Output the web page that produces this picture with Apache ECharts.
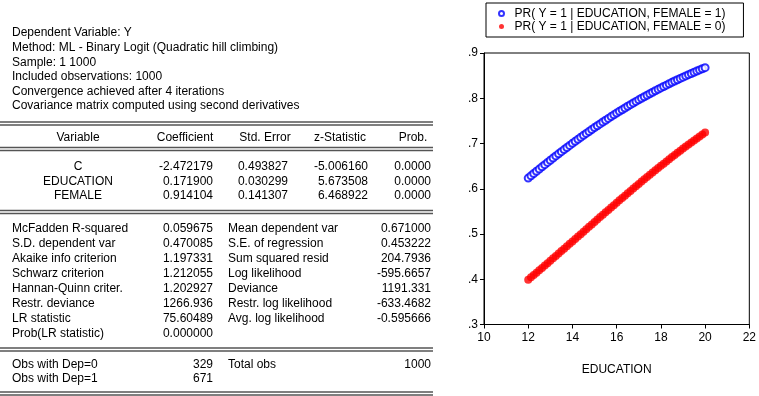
<!DOCTYPE html>
<html><head><meta charset="utf-8">
<script src="https://cdn.jsdelivr.net/npm/echarts@6/dist/echarts.min.js"></script>
<style>html,body{margin:0;padding:0;background:#fff}#c{width:759px;height:396px}</style>
</head><body><div id="c"></div>
<script>
// ---- DATA ----
const infoLines = [
  'Dependent Variable: Y',
  'Method: ML - Binary Logit (Quadratic hill climbing)',
  'Sample: 1 1000',
  'Included observations: 1000',
  'Convergence achieved after 4 iterations',
  'Covariance matrix computed using second derivatives'
];
const coefHeaders = ['Variable', 'Coefficient', 'Std. Error', 'z-Statistic', 'Prob.'];
const coefVars = ['C', 'EDUCATION', 'FEMALE'];
const coefCoefficient = ['-2.472179', '0.171900', '0.914104'];
const coefStdError = ['0.493827', '0.030299', '0.141307'];
const coefZStat = ['-5.006160', '5.673508', '6.468922'];
const coefProb = ['0.0000', '0.0000', '0.0000'];
const statsLeftLabels = ['McFadden R-squared', 'S.D. dependent var', 'Akaike info criterion', 'Schwarz criterion',
  'Hannan-Quinn criter.', 'Restr. deviance', 'LR statistic', 'Prob(LR statistic)'];
const statsLeftValues = ['0.059675', '0.470085', '1.197331', '1.212055', '1.202927', '1266.936', '75.60489', '0.000000'];
const statsRightLabels = ['Mean dependent var', 'S.E. of regression', 'Sum squared resid', 'Log likelihood',
  'Deviance', 'Restr. log likelihood', 'Avg. log likelihood'];
const statsRightValues = ['0.671000', '0.453222', '204.7936', '-595.6657', '1191.331', '-633.4682', '-0.595666'];
const obsLeftLabels = ['Obs with Dep=0', 'Obs with Dep=1'];
const obsLeftValues = ['329', '671'];
const obsRightLabels = ['Total obs'];
const obsRightValues = ['1000'];

const seriesNames = ['PR( Y = 1 | EDUCATION, FEMALE = 1)', 'PR( Y = 1 | EDUCATION, FEMALE = 0)'];
const education = [12, 12.125, 12.25, 12.375, 12.5, 12.625, 12.75, 12.875, 13, 13.125, 13.25, 13.375, 13.5, 13.625,
  13.75, 13.875, 14, 14.125, 14.25, 14.375, 14.5, 14.625, 14.75, 14.875, 15, 15.125, 15.25, 15.375, 15.5, 15.625,
  15.75, 15.875, 16, 16.125, 16.25, 16.375, 16.5, 16.625, 16.75, 16.875, 17, 17.125, 17.25, 17.375, 17.5, 17.625,
  17.75, 17.875, 18, 18.125, 18.25, 18.375, 18.5, 18.625, 18.75, 18.875, 19, 19.125, 19.25, 19.375, 19.5, 19.625,
  19.75, 19.875, 20];
const prFemale1 = [0.6236, 0.6286, 0.6337, 0.6386, 0.6435, 0.6484, 0.6533, 0.6582, 0.6630, 0.6678, 0.6726, 0.6772,
  0.6819, 0.6866, 0.6912, 0.6958, 0.7003, 0.7047, 0.7092, 0.7136, 0.7180, 0.7223, 0.7266, 0.7309, 0.7351, 0.7392,
  0.7433, 0.7475, 0.7515, 0.7555, 0.7594, 0.7633, 0.7672, 0.7710, 0.7747, 0.7785, 0.7822, 0.7858, 0.7894, 0.7930,
  0.7965, 0.7999, 0.8034, 0.8067, 0.8100, 0.8133, 0.8165, 0.8197, 0.8229, 0.8260, 0.8290, 0.8321, 0.8351, 0.8380,
  0.8409, 0.8438, 0.8466, 0.8493, 0.8521, 0.8548, 0.8574, 0.8600, 0.8626, 0.8651, 0.8676];
const prFemale0 = [0.3991, 0.4042, 0.4094, 0.4146, 0.4198, 0.4251, 0.4304, 0.4356, 0.4409, 0.4462, 0.4515, 0.4569,
  0.4622, 0.4675, 0.4729, 0.4782, 0.4836, 0.4890, 0.4944, 0.4997, 0.5051, 0.5105, 0.5158, 0.5212, 0.5266, 0.5319,
  0.5373, 0.5426, 0.5479, 0.5532, 0.5586, 0.5638, 0.5691, 0.5744, 0.5796, 0.5848, 0.5900, 0.5952, 0.6004, 0.6055,
  0.6107, 0.6158, 0.6209, 0.6259, 0.6309, 0.6359, 0.6408, 0.6458, 0.6507, 0.6555, 0.6604, 0.6652, 0.6700, 0.6747,
  0.6794, 0.6840, 0.6887, 0.6932, 0.6978, 0.7023, 0.7068, 0.7112, 0.7156, 0.7199, 0.7243];
const xTicks = [10, 12, 14, 16, 18, 20, 22];
const yTickLabels = ['.3', '.4', '.5', '.6', '.7', '.8', '.9'];

// ---- LAYOUT ----
const FF = '"Liberation Sans", Arial, sans-serif';
const FONT = '12px ' + FF;
const TXT = '#000';
const graphics = [];
function txt(s, x, y, align) {
  graphics.push({type: 'text', x: x, y: y, silent: true,
    style: {text: s, font: FONT, fill: TXT, align: align || 'left', verticalAlign: 'middle'}});
}
function dbl(y) {
  [y, y + 3].forEach(yy => graphics.push({type: 'line', silent: true,
    shape: {x1: 0, y1: yy, x2: 433, y2: yy}, style: {stroke: '#555', lineWidth: 1.3}}));
}
infoLines.forEach((s, i) => txt(s, 12, 33 + i * 14.6));
dbl(122);
const colCenters = [78, 185, 265, 340, 413];
coefHeaders.forEach((s, i) => txt(s, colCenters[i], 137.5, 'center'));
dbl(147.5);
const coefCols = [coefCoefficient, coefStdError, coefZStat, coefProb];
const coefRight = [213, 288, 368, 431];
coefVars.forEach((v, r) => {
  const y = 167 + r * 14.2;
  txt(v, 78, y, 'center');
  coefCols.forEach((col, c) => txt(col[r], coefRight[c], y, 'right'));
});
dbl(210.5);
statsLeftLabels.forEach((s, i) => {
  const y = 228.3 + i * 15;
  txt(s, 12, y);
  txt(statsLeftValues[i], 213, y, 'right');
  if (i < statsRightLabels.length) {
    txt(statsRightLabels[i], 228, y);
    txt(statsRightValues[i], 431, y, 'right');
  }
});
dbl(348);
obsLeftLabels.forEach((s, i) => {
  const y = 364.5 + i * 14.5;
  txt(s, 12, y);
  txt(obsLeftValues[i], 213, y, 'right');
  if (i < obsRightLabels.length) {
    txt(obsRightLabels[i], 228, y);
    txt(obsRightValues[i], 431, y, 'right');
  }
});
dbl(392);

const chart = echarts.init(document.getElementById('c'), null, {renderer: 'canvas'});
const axisLabelStyle = {color: '#000', fontSize: 12, fontFamily: FF};
chart.setOption({
  animation: false,
  backgroundColor: '#fff',
  textStyle: {fontFamily: FF},
  grid: {left: 484, right: 3.5, top: 53, bottom: 71.5, show: true, borderColor: '#000', borderWidth: 1,
    containLabel: false},
  legend: {
    left: 486, top: 3, orient: 'vertical',
    padding: [4, 18, 4, 12],
    borderColor: '#000', borderWidth: 1,
    itemGap: 0, itemWidth: 16, itemHeight: 5,
    textStyle: {color: '#000', fontSize: 12, lineHeight: 13, fontFamily: FF},
    data: [{name: seriesNames[0], icon: 'emptyCircle', itemStyle: {color: '#0000ff', borderColor: '#0000ff', borderWidth: 1}},
           {name: seriesNames[1], icon: 'circle', itemStyle: {color: '#ff0000'}}],
    selectedMode: false
  },
  xAxis: {
    type: 'value', min: xTicks[0], max: xTicks[xTicks.length - 1], interval: 2,
    name: 'EDUCATION', nameLocation: 'middle', nameGap: 39,
    nameTextStyle: axisLabelStyle,
    axisLine: {show: true, onZero: false, lineStyle: {color: '#000', width: 1}},
    axisTick: {show: true, length: 4, lineStyle: {color: '#000'}},
    axisLabel: Object.assign({margin: 7}, axisLabelStyle),
    splitLine: {show: false}
  },
  yAxis: {
    type: 'value', min: 0.3, max: 0.9, interval: 0.1,
    axisLine: {show: true, onZero: false, lineStyle: {color: '#000', width: 1}},
    axisTick: {show: true, length: 4, lineStyle: {color: '#000'}},
    axisLabel: Object.assign({margin: 6, formatter: (v) => yTickLabels[Math.round((v - 0.3) * 10)]}, axisLabelStyle),
    splitLine: {show: false}
  },
  series: [
    {name: seriesNames[0], type: 'scatter', symbol: 'emptyCircle', symbolSize: 7,
     itemStyle: {color: '#0000ff', borderColor: '#0000ff', borderWidth: 2.5},
     data: education.map((e, i) => [e, prFemale1[i]])},
    {name: seriesNames[1], type: 'scatter', symbol: 'circle', symbolSize: 8,
     itemStyle: {color: '#ff0000'},
     data: education.map((e, i) => [e, prFemale0[i]])}
  ],
  graphic: graphics
});
</script></body></html>
